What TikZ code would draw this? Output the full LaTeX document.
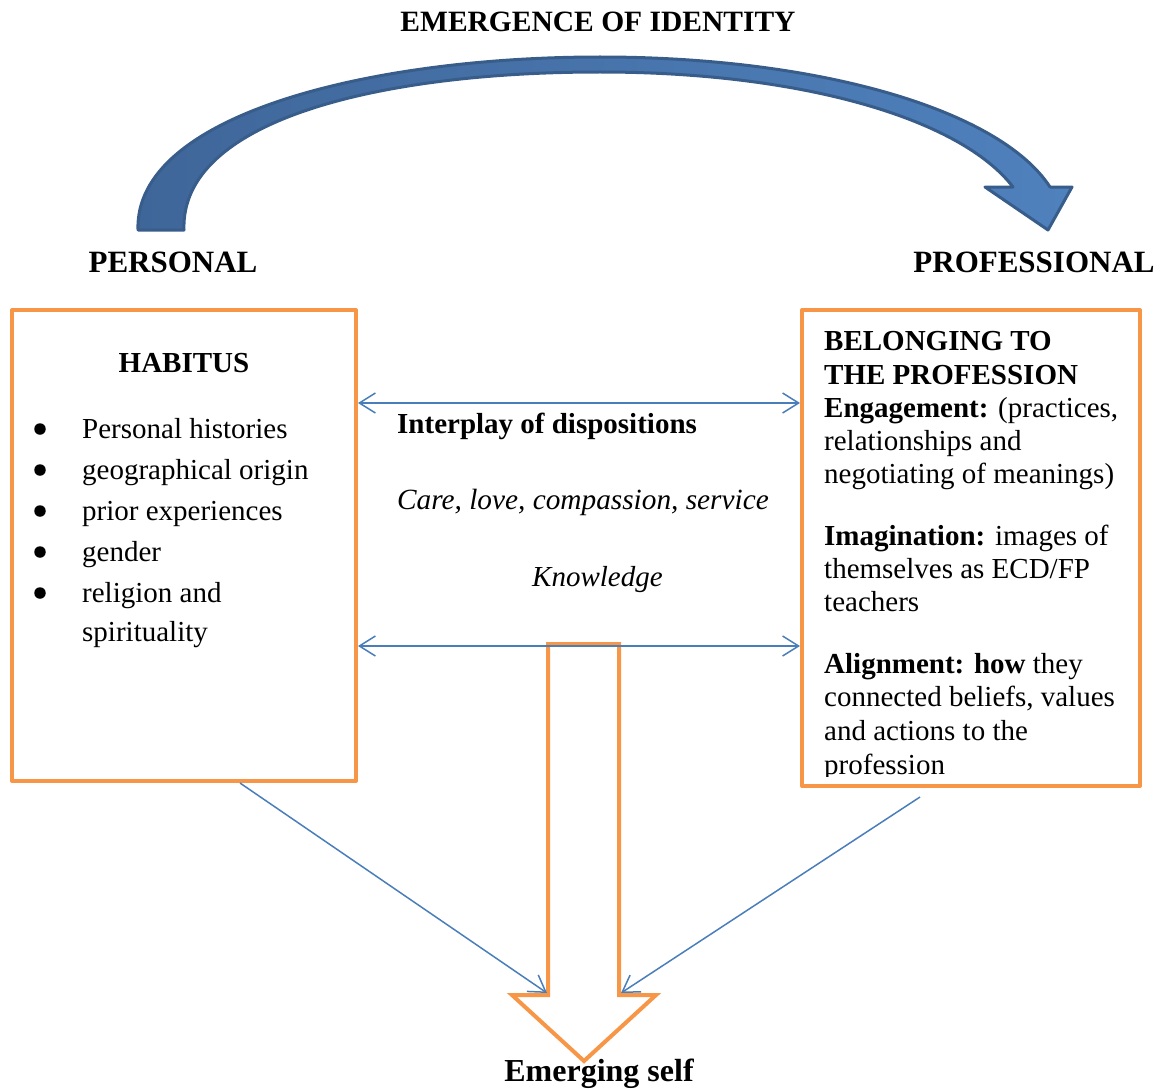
\documentclass[tikz,border=0pt]{standalone}
\usepackage{fontspec}
\setmainfont{Liberation Serif}
\usetikzlibrary{arrows.meta}
\definecolor{orng}{HTML}{F79646}
\definecolor{lblue}{HTML}{4A7EBB}
\definecolor{arcfillL}{HTML}{3F6699}
\definecolor{arcfillR}{HTML}{4F81BD}
\definecolor{arcdraw}{HTML}{385D8A}
\begin{document}
\begin{tikzpicture}[x=1pt,y=-1pt,
  box/.style={draw=orng, line width=4pt, inner sep=0pt, line join=round},
  txt/.style={anchor=base west, inner sep=0pt, font=\fontsize{29}{33}\selectfont},
  ctxt/.style={anchor=base, inner sep=0pt, font=\fontsize{29}{33}\selectfont},
  title/.style={anchor=base, inner sep=0pt, font=\fontsize{31}{35}\selectfont\bfseries},
  bul/.style={circle, fill=black, inner sep=0pt, minimum size=11.5pt},
  link/.style={draw=lblue, line width=1.5pt, -{Straight Barb[length=16pt,width=20pt,line width=1.5pt]}},
  dlink/.style={draw=lblue, line width=1.5pt, {Straight Barb[length=16pt,width=20pt,line width=1.5pt]}-{Straight Barb[length=16pt,width=20pt,line width=1.5pt]}}
]
\useasboundingbox (0,0) rectangle (1164,1089);

% curved blue arrow
\shade[left color=arcfillL, right color=arcfillR, draw=arcdraw, line width=3pt, line join=round]
  (138,230) .. controls (134,115) and (370,57) .. (600,57)
  .. controls (820,57) and (1000,110) .. (1050,187)
  -- (1072,187) -- (1048,230) -- (985,187) -- (1013,187)
  .. controls (960,118) and (800,72) .. (600,72)
  .. controls (380,72) and (180,120) .. (184,230) -- cycle;

% titles
\node[title, font=\fontsize{29.5}{33}\selectfont\bfseries] (emerg) at (598,32) {EMERGENCE OF IDENTITY};
\node[title] (pers) at (173,272) {PERSONAL};
\node[title] (prof) at (1034,272) {PROFESSIONAL};

% boxes
\node[box, minimum width=344pt, minimum height=471pt] (habbox) at (184,545.5) {};
\node[box, minimum width=338pt, minimum height=476pt] (belbox) at (971,548) {};

% habitus content
\node[ctxt, font=\fontsize{29}{33}\selectfont\bfseries] (hab) at (184,372) {HABITUS};
\foreach \y/\t [count=\i] in {438/Personal histories, 479/geographical origin, 520/prior experiences, 561/gender, 602/religion and}{
  \node[bul] (b\i) at (40,\y-9) {};
  \node[txt] (l\i) at (82,\y) {\t};
}
\node[txt] (l6) at (82,641) {spirituality};

% belonging content
\node[txt, font=\fontsize{29}{33}\selectfont\bfseries] (r1) at (824,350) {BELONGING TO};
\node[txt, font=\fontsize{29}{33}\selectfont\bfseries] (r2) at (824,384) {THE PROFESSION};
\node[txt] (r3) at (824,417) {\textbf{Engagement:} (practices,};
\node[txt] (r4) at (824,450) {relationships and};
\node[txt] (r5) at (824,483) {negotiating of meanings)};
\node[txt] (r6) at (824,545) {\textbf{Imagination:} images of};
\node[txt] (r7) at (824,578) {themselves as ECD/FP};
\node[txt] (r8) at (824,611) {teachers};
\node[txt] (r9) at (824,673) {\textbf{Alignment: how} they};
\node[txt] (r10) at (824,706) {connected beliefs, values};
\node[txt] (r11) at (824,740) {and actions to the};
\begin{scope}
  \clip (800,745) rectangle (1140,776);
  \node[txt] (r12) at (824,774) {profession};
\end{scope}

% middle texts
\node[txt, font=\fontsize{29}{33}\selectfont\bfseries] (inter) at (397,433) {Interplay of dispositions};
\node[txt, font=\fontsize{29.3}{33}\selectfont\itshape] (care) at (397,509) {Care, love, compassion, service};
\node[txt, font=\fontsize{29}{33}\selectfont\itshape] (know) at (532,586) {Knowledge};

% orange down arrow
\draw[orng, line width=4pt, line join=miter]
  (548,644) -- (619,644) -- (619,995) -- (656,995) -- (584,1061) -- (512,995) -- (548,995) -- cycle;
\coordinate (dl) at (547,993);
\coordinate (dr) at (621,993);
\coordinate (rstart) at (920,797);

% double arrows
\draw[dlink] (habbox.east |- 0,403) -- (belbox.west |- 0,403);
\draw[dlink] (habbox.east |- 0,646) -- (belbox.west |- 0,646);

% diagonal arrows
\draw[link] (habbox.south -| 240,0) -- (dl);
\draw[link] (rstart) -- (dr);

\node[title, font=\fontsize{32}{35}\selectfont\bfseries] (self) at (599,1081) {Emerging self};
\end{tikzpicture}
\end{document}
